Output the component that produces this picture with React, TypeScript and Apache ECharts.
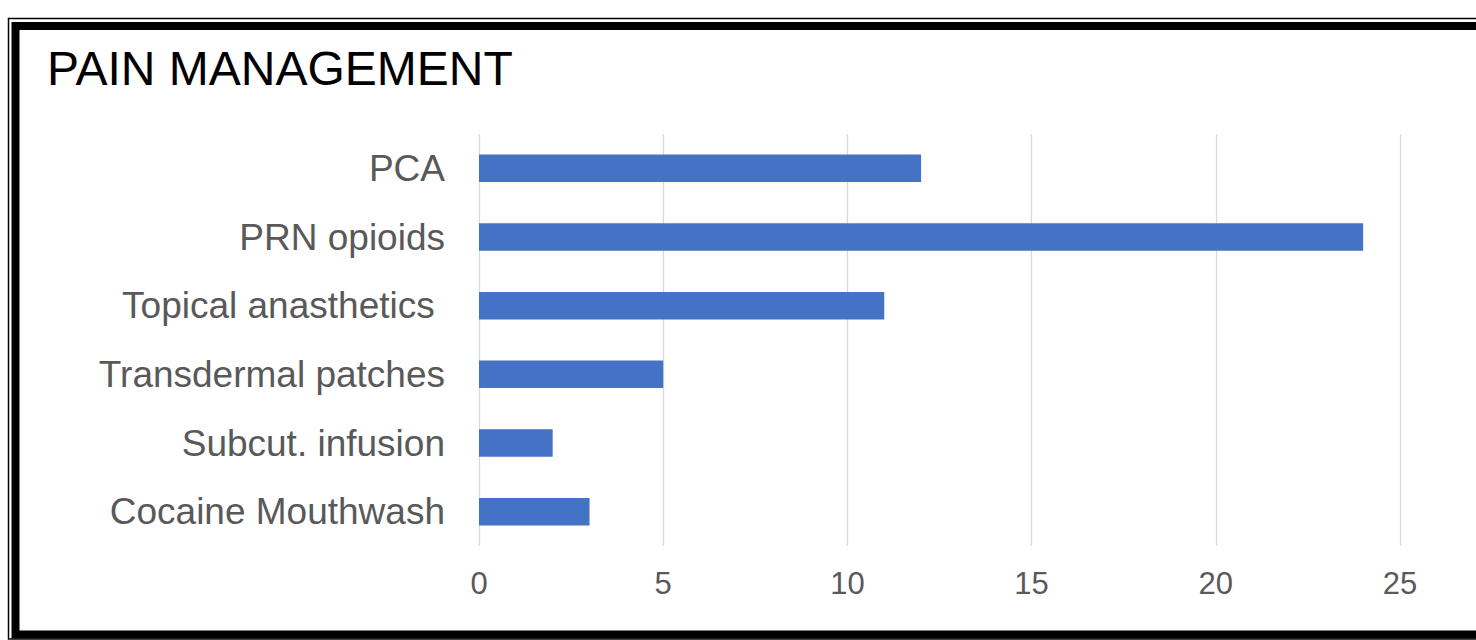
import React, { useEffect, useRef } from "react";
import * as echarts from "echarts";

const categories = [
  "PCA",
  "PRN opioids",
  "Topical anasthetics ",
  "Transdermal patches",
  "Subcut. infusion",
  "Cocaine Mouthwash",
];
const values = [12, 24, 11, 5, 2, 3];
const titleText = "PAIN MANAGEMENT";
const FONT = "'Liberation Sans', Arial, Helvetica, sans-serif";

export default function App() {
  const ref = useRef<HTMLDivElement>(null);
  useEffect(() => {
    if (!ref.current) return;
    const chart = echarts.init(ref.current, undefined, { renderer: "svg" });
    chart.setOption({
      animation: false,
      backgroundColor: "#ffffff",
      textStyle: { fontFamily: FONT },
      grid: { left: 479, right: 76, top: 134, bottom: 94, containLabel: false },
      xAxis: {
        type: "value",
        min: 0,
        max: 25,
        interval: 5,
        axisLine: { show: false },
        axisTick: { show: false },
        splitLine: { show: true, lineStyle: { color: "#d9d9d9", width: 1.3 } },
        axisLabel: { fontSize: 31, color: "#595959", margin: 22, fontFamily: FONT },
      },
      yAxis: {
        type: "category",
        inverse: true,
        data: categories,
        axisLine: { show: false },
        axisTick: { show: false },
        splitLine: { show: false },
        axisLabel: { fontSize: 37, color: "#595959", margin: 34, fontFamily: FONT },
      },
      series: [
        {
          type: "bar",
          data: values,
          barWidth: "40%",
          itemStyle: { color: "#4472C4" },
        },
      ],
      graphic: [
        {
          type: "rect",
          shape: { x: 8.5, y: 18.5, width: 1520, height: 620.5 },
          style: { fill: "none", stroke: "#000", lineWidth: 1.5 },
          silent: true,
        },
        {
          type: "rect",
          shape: { x: 15.5, y: 26, width: 1520, height: 608.5 },
          style: { fill: "none", stroke: "#000", lineWidth: 8 },
          silent: true,
        },
        {
          type: "text",
          x: 47,
          y: 68,
          style: {
            text: titleText,
            fontSize: 48,
            fill: "#000000",
            fontFamily: FONT,
            textAlign: "left",
            textVerticalAlign: "middle",
          },
          silent: true,
        },
      ],
    });
    return () => chart.dispose();
  }, []);
  return (
    <div
      ref={ref}
      style={{ position: "fixed", left: 0, top: 0, width: 1476, height: 640, background: "#fff" }}
    />
  );
}
